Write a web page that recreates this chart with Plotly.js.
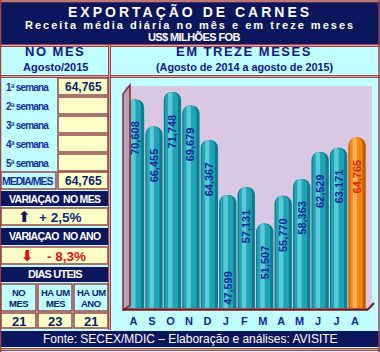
<!DOCTYPE html>
<html><head><meta charset="utf-8">
<script src="https://cdn.plot.ly/plotly-3.0.1.min.js"></script>
<style>html,body{margin:0;padding:0;background:#c0feff;}#chart{width:380px;height:352px;}</style>
</head><body><div id="chart"></div>
<script>
// ---------- data ----------
const months = ['A','S','O','N','D','J','F','M','A','M','J','J','A'];
const valueLabels = ['70,608','66,455','71,748','69,679','64,367','47,599','57,131','51,507','55,770','58,363','62,529','63,171','64,765'];
const values = [70.608,66.455,71.748,69.679,64.367,47.599,57.131,51.507,55.770,58.363,62.529,63.171,64.765];
// bar heights as drawn in the picture (January bar is drawn taller than its label)
const barHeights = [70.608,66.455,71.748,69.679,64.367,55.9,57.131,51.507,55.770,58.363,62.529,63.171,64.765];
const weekLabels = ['1ª semana','2ª semana','3ª semana','4ª semana','5ª semana'];
const weekValues = ['64,765','','','',''];
const mediaLabel = 'MEDIA/MES';
const mediaValue = '64,765';
const varMesTitle = 'VARIAÇAO&nbsp;&nbsp;NO MES';
const varMes = '+ 2,5%';
const varAnoTitle = 'VARIAÇAO&nbsp;&nbsp;NO ANO';
const varAno = '- 8,3%';
const diasTitle = 'DIAS UTEIS';
const diasHeaders = [['NO','MES'],['HA UM','MES'],['HA UM','ANO']];
const diasValues = ['21','23','21'];

// ---------- helpers ----------
const W = 380, H = 352;
const PX = x => x / W, PY = y => 1 - y / H;
const BR = '#9a4646', NAVY = '#0b165c', CYAN = '#c0feff', YEL = '#ffffc8';
const FONT = 'Liberation Sans, Arial, sans-serif';
const shapes = [];
const anns = [];
function rect(x0, y0, x1, y1, fill, line, lw) {
  shapes.push({type:'rect', xref:'paper', yref:'paper', x0:PX(x0), x1:PX(x1), y0:PY(y1), y1:PY(y0),
    fillcolor:fill, line:{color:line||'rgba(0,0,0,0)', width: line ? (lw||1.5) : 0}, layer:'above'});
}
function line(x0, y0, x1, y1, color, w) {
  shapes.push({type:'line', xref:'paper', yref:'paper', x0:PX(x0), x1:PX(x1), y0:PY(y0), y1:PY(y1),
    line:{color:color, width:w}, layer:'above'});
}
function dline(x0, y0, x1, y1) { line(x0,y0,x1,y1,BR,3); line(x0,y0,x1,y1,'#e0a8a8',1); }
function sp(t, s) { return '<span style="letter-spacing:' + s + 'px">' + t + '</span>'; }
function txt(text, x, y, size, color, opts) {
  opts = opts || {};
  const t = (opts.ls !== undefined) ? sp(text, opts.ls) : text;
  anns.push(Object.assign({text:t, xref:'paper', yref:'paper', x:PX(x), y:PY(y), xanchor:opts.xanchor||'center', yanchor:'middle',
    showarrow:false, font:{family:opts.family||FONT, size:size, color:color, weight:opts.weight||700}}, opts.extra||{}));
}

// ---------- frame / title ----------
rect(0, 2, 380, 44, NAVY);
rect(0, 331, 380, 347, NAVY);
dline(0, 1, 380, 1);
dline(0, 45.5, 380, 45.5);
dline(0, 76.5, 380, 76.5);
dline(109.5, 45, 109.5, 330);
dline(0, 349.5, 380, 349.5);
line(0.5, 0, 0.5, 352, BR, 1.5);
line(379, 0, 379, 352, BR, 1.5);

txt('EXPORTAÇÃO DE CARNES', 190, 12, 14, '#ffffff', {ls:3});
txt('Receita média diária no mês e em treze meses', 190, 25, 11, '#ffffff', {ls:2});
txt('US$ MILHÕES FOB', 194, 37, 11, '#ffffff', {ls:-0.6});
txt('NO MES', 55, 52, 13, '#10188c', {ls:1.5});
txt('Agosto/2015', 55, 67, 11, '#10188c');
txt('EM TREZE MESES', 244, 52, 13, '#10188c', {ls:1.5});
txt('(Agosto de 2014 a agosto de 2015)', 244, 67, 10.8, '#10188c');

// ---------- left table ----------
const rowTops = [78, 97, 116, 135, 154];
weekLabels.forEach((lab, i) => {
  rect(58, rowTops[i], 108, rowTops[i] + 17, YEL, BR, 1.5);
  txt(lab.replace(' ', '&nbsp;'), 4, rowTops[i] + 9, 10, '#1030a0', {ls:-0.8, xanchor:'left'});
  if (weekValues[i]) txt(weekValues[i], 83, rowTops[i] + 9, 12, '#0a1e6e');
});
rect(1, 172, 56, 189, CYAN, BR, 1.5);
rect(58, 172, 108, 189, YEL, BR, 1.5);
txt(mediaLabel, 28, 181, 10.5, '#1030a0', {ls:-1});
txt(mediaValue, 83, 181, 12, '#0a1e6e');

rect(1, 191, 108, 206, NAVY);
txt(varMesTitle, 55, 199, 10.5, '#ffffff', {ls:-0.7});
rect(1, 208, 108, 225, YEL, BR, 1.5);
txt('⬆', 24, 217, 15, '#0b165c', {family:'DejaVu Sans'});
txt(varMes, 60, 217, 13.5, '#0a2a80');

rect(1, 228, 108, 245, NAVY);
txt(varAnoTitle, 55, 236, 10.5, '#ffffff', {ls:-0.7});
rect(1, 247, 108, 264, YEL, BR, 1.5);
txt('⬇', 28, 256, 15, '#e01010', {family:'DejaVu Sans'});
txt(varAno, 66, 256, 13.5, '#e01010');

rect(1, 267, 108, 282, NAVY);
txt(diasTitle, 55, 274, 11, '#ffffff', {ls:-0.8});
const colX = [[1, 36], [38, 72], [74, 108]];
colX.forEach((c, i) => {
  rect(c[0], 284, c[1], 311, CYAN, BR, 1.5);
  rect(c[0], 313, c[1], 328, YEL, BR, 1.5);
  txt(diasHeaders[i][0].replace(' ', '&nbsp;'), (c[0] + c[1]) / 2, 292, 9.5, '#0a1e6e', {ls:-0.5});
  txt(diasHeaders[i][1], (c[0] + c[1]) / 2, 303, 9.5, '#0a1e6e', {ls:-0.5});
  txt(diasValues[i], (c[0] + c[1]) / 2, 321, 13, '#0a1e6e');
});

txt('Fonte: SECEX/MDIC – Elaboração e análises: AVISITE', 190, 339, 12, '#ffffff', {weight:400});

// ---------- chart decorations (wall + floor) ----------
shapes.push({type:'path', xref:'paper', yref:'paper',
  path:`M ${PX(123)} ${PY(94)} L ${PX(130)} ${PY(85)} L ${PX(130)} ${PY(305)} L ${PX(123)} ${PY(310)} Z`,
  fillcolor:'#b9a2b4', line:{color:'#8a2a2a', width:1.5}, layer:'above'});
line(123, 309.5, 368, 309.5, '#7a1a1a', 2.5);
line(368, 309.5, 374, 303, '#7a1a1a', 2);

// ---------- bars ----------
const xs = months.map((m, i) => i);
const isLast = i => i === months.length - 1;
const dark = xs.map(i => isLast(i) ? '#c45a00' : '#0c7d8e');
const mid = xs.map(i => isLast(i) ? '#f3860f' : '#1fa3b5');
const light = xs.map(i => isLast(i) ? '#ffb060' : '#5ccad8');

const traces = [
  {type:'bar', x:xs, y:barHeights, width:0.94, offset:-0.47, marker:{color:dark, cornerradius:'50%'}, hoverinfo:'skip'},
  {type:'bar', x:xs, y:barHeights, width:0.70, offset:-0.40, marker:{color:mid, cornerradius:'50%'}, hoverinfo:'skip'},
  {type:'bar', x:xs, y:barHeights, width:0.24, offset:-0.24, marker:{color:light, cornerradius:'50%'}, hoverinfo:'skip'}
];

values.forEach((v, i) => {
  anns.push({text:valueLabels[i], x:i, y:v, xref:'x', yref:'y', xanchor:'center', yanchor:'top', yshift:-20,
    textangle:-90, showarrow:false,
    font:{family:FONT, size:11, weight:700, color: isLast(i) ? '#d42a00' : '#14289a'}});
});

const layout = {
  width:W, height:H, margin:{l:0, r:0, t:0, b:0},
  paper_bgcolor:CYAN, plot_bgcolor:'#d9c8e1',
  barmode:'overlay', showlegend:false,
  xaxis:{domain:[PX(125), PX(372)], range:[-0.569, 12.81], tickvals:xs, ticktext:months,
    showgrid:false, zeroline:false, showline:false, ticks:'', ticklabelstandoff:5, ticklabelshift:-2,
    tickfont:{family:FONT, size:11, weight:700, color:'#14289a'}, fixedrange:true},
  yaxis:{domain:[PY(308), PY(86)], range:[38.52, 72.67], showgrid:false, zeroline:false, showline:false,
    showticklabels:false, ticks:'', fixedrange:true},
  shapes:shapes, annotations:anns
};
Plotly.newPlot('chart', traces, layout, {staticPlot:true, displayModeBar:false});
</script></body></html>
